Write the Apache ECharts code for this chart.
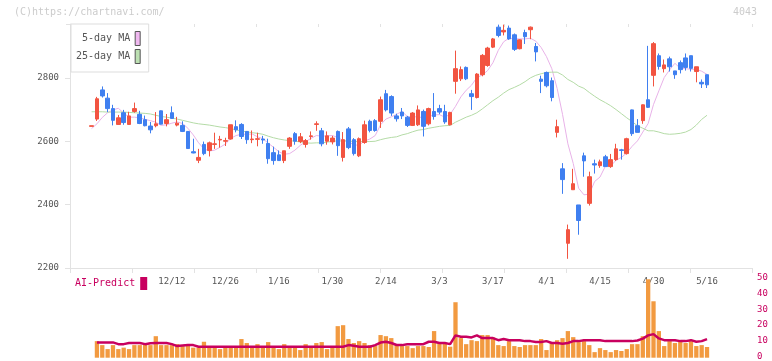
<!DOCTYPE html>
<html>
<head>
<meta charset="utf-8">
<script src="https://cdn.jsdelivr.net/npm/echarts@6/dist/echarts.min.js"></script>
<style>html,body{margin:0;padding:0;background:#fff;}#c{width:772px;height:361px;}</style>
</head>
<body>
<div id="c"></div>
<script>
const dates = ['11/21','11/22','11/25','11/26','11/27','11/28','11/29','12/2','12/3','12/4','12/5','12/6','12/9','12/10','12/11','12/12','12/13','12/16','12/17','12/18','12/19','12/20','12/23','12/24','12/25','12/26','12/27','12/30','1/6','1/7','1/8','1/9','1/10','1/14','1/15','1/16','1/17','1/20','1/21','1/22','1/23','1/24','1/27','1/28','1/29','1/30','1/31','2/3','2/4','2/5','2/6','2/7','2/10','2/12','2/13','2/14','2/17','2/18','2/19','2/20','2/21','2/25','2/26','2/27','2/28','3/3','3/4','3/5','3/6','3/7','3/10','3/11','3/12','3/13','3/14','3/17','3/18','3/19','3/21','3/24','3/25','3/26','3/27','3/28','3/31','4/1','4/2','4/3','4/4','4/7','4/8','4/9','4/10','4/11','4/14','4/15','4/16','4/17','4/18','4/21','4/22','4/23','4/24','4/25','4/28','4/30','5/1','5/2','5/7','5/8','5/9','5/12','5/13','5/14','5/15','5/16'];
const opens  = [2647,2670,2762,2736,2703,2653,2690,2653,2694,2685,2668,2648,2649,2696,2656,2690,2651,2650,2631,2567,2540,2590,2571,2590,2604,2600,2607,2646,2653,2631,2605,2606,2607,2593,2564,2557,2539,2584,2624,2599,2590,2615,2653,2633,2600,2598,2631,2549,2639,2605,2554,2596,2663,2665,2663,2750,2741,2680,2692,2676,2650,2652,2694,2655,2694,2703,2694,2652,2789,2797,2833,2750,2738,2810,2839,2897,2960,2945,2957,2936,2892,2943,2952,2899,2796,2817,2791,2628,2513,2278,2447,2399,2554,2404,2529,2523,2551,2520,2542,2573,2561,2699,2649,2665,2731,2808,2870,2829,2860,2822,2848,2863,2870,2820,2786,2810];
const closes = [2649,2734,2743,2703,2666,2674,2659,2680,2703,2656,2649,2636,2655,2654,2668,2672,2657,2631,2577,2563,2549,2561,2595,2592,2606,2602,2652,2636,2615,2605,2607,2608,2604,2545,2539,2539,2570,2610,2600,2614,2602,2617,2655,2592,2617,2610,2586,2605,2580,2561,2608,2652,2634,2634,2731,2699,2689,2671,2680,2650,2689,2699,2647,2703,2678,2692,2661,2691,2829,2826,2797,2741,2812,2871,2894,2923,2934,2950,2923,2890,2920,2930,2960,2882,2789,2775,2738,2646,2479,2321,2466,2350,2538,2488,2525,2535,2520,2542,2576,2571,2608,2624,2628,2715,2707,2908,2836,2841,2835,2810,2826,2833,2830,2835,2781,2778];
const lows   = [2647,2664,2738,2692,2650,2653,2652,2653,2690,2654,2647,2625,2644,2653,2647,2672,2647,2629,2577,2562,2531,2556,2552,2576,2580,2585,2605,2628,2607,2592,2594,2584,2592,2529,2526,2539,2531,2576,2589,2594,2580,2605,2633,2584,2589,2590,2554,2536,2575,2555,2550,2592,2628,2630,2642,2694,2680,2662,2670,2645,2648,2648,2615,2650,2668,2685,2655,2650,2750,2790,2793,2699,2735,2805,2835,2894,2928,2934,2920,2885,2890,2907,2922,2852,2752,2770,2726,2612,2434,2229,2447,2305,2488,2397,2498,2516,2520,2516,2538,2542,2558,2617,2628,2655,2705,2773,2826,2817,2820,2797,2814,2823,2820,2786,2768,2768];
const highs  = [2649,2740,2773,2752,2715,2683,2699,2693,2722,2696,2681,2661,2692,2697,2686,2710,2677,2663,2631,2608,2576,2599,2599,2627,2617,2611,2652,2666,2657,2631,2634,2627,2617,2608,2583,2571,2570,2613,2629,2626,2607,2631,2663,2642,2631,2617,2634,2629,2645,2610,2612,2665,2668,2670,2741,2762,2745,2687,2705,2680,2692,2713,2700,2706,2752,2715,2715,2693,2886,2836,2836,2762,2815,2875,2898,2926,2968,2968,2965,2940,2922,2952,2962,2910,2807,2820,2801,2668,2531,2337,2513,2399,2564,2504,2542,2542,2557,2560,2592,2576,2611,2700,2670,2716,2901,2913,2877,2858,2867,2822,2855,2877,2870,2835,2795,2810];
const ma5  = [2640,2655,2675,2690,2699,2704,2689,2676,2676,2674,2669,2665,2660,2650,2652,2657,2661,2656,2641,2620,2595,2576,2569,2572,2581,2591,2609,2618,2622,2622,2623,2614,2608,2594,2581,2567,2559,2561,2572,2587,2599,2609,2618,2616,2617,2618,2612,2602,2600,2588,2588,2601,2607,2618,2652,2670,2677,2685,2694,2678,2676,2678,2673,2678,2683,2684,2676,2685,2710,2740,2761,2777,2801,2809,2823,2848,2887,2914,2925,2924,2923,2923,2925,2916,2896,2867,2829,2766,2685,2592,2530,2452,2431,2433,2473,2487,2521,2522,2540,2549,2563,2584,2601,2629,2656,2716,2759,2801,2825,2846,2830,2829,2827,2827,2821,2811];
const ma25 = [2693,2693,2693,2692,2692,2692,2692,2691,2690,2689,2688,2686,2682,2678,2676,2673,2670,2666,2662,2658,2655,2653,2651,2648,2645,2643,2640,2636,2632,2630,2627,2625,2622,2616,2611,2607,2604,2602,2600,2598,2595,2594,2595,2595,2597,2600,2601,2601,2601,2599,2599,2599,2599,2600,2605,2609,2612,2614,2620,2624,2630,2635,2637,2641,2644,2647,2649,2650,2660,2668,2676,2682,2690,2702,2715,2728,2739,2752,2763,2770,2778,2788,2800,2808,2813,2817,2818,2818,2809,2795,2786,2774,2767,2754,2742,2731,2722,2712,2700,2687,2674,2662,2649,2641,2633,2633,2629,2624,2622,2623,2625,2629,2637,2651,2669,2682];
const volumes = [null,10.4,7.9,5.4,7.9,5.4,6.3,5.4,7.9,7.9,8.5,7.9,13.5,7.9,7.9,7.9,8.5,7.3,7.9,6.3,6.3,10.0,6.3,6.3,5.4,7.3,7.3,7.3,11.7,9.2,7.3,8.5,7.3,9.8,7.3,5.4,8.5,7.3,7.3,4.8,8.5,7.3,9.2,9.8,5.4,6.3,19.8,20.4,11.7,9.2,10.4,9.2,7.9,7.3,14.2,13.5,12.3,7.9,7.3,7.3,6.0,7.3,7.3,6.7,16.7,9.2,9.2,6.9,34.8,12.3,8.5,11.0,10.4,14.2,14.2,12.7,7.9,7.3,10.4,7.3,6.7,7.9,7.9,7.9,11.7,4.8,9.2,11.0,12.3,16.7,12.9,9.8,10.4,7.9,3.5,6.0,4.8,3.5,4.8,4.2,5.4,8.5,8.5,13.5,49.2,35.4,16.7,7.3,10.4,9.2,10.4,9.2,10.4,7.3,7.9,6.7];
const aiPredict = [null,9.6,9.6,9.6,9.6,8.5,8.5,9.2,9.2,9.2,8.5,9.0,9.2,9.2,9.2,8.5,7.3,7.6,7.9,7.9,6.9,6.9,6.9,6.9,6.9,6.9,6.9,6.9,6.9,6.9,6.9,6.9,6.9,6.9,6.9,6.9,6.9,6.9,6.9,6.9,6.9,6.9,6.9,6.9,6.9,6.9,6.9,6.9,7.9,7.5,6.9,6.9,6.9,7.9,9.5,10.0,9.2,8.0,7.9,8.5,8.5,8.5,8.5,10.0,10.0,9.2,9.2,8.5,14.0,13.1,13.1,12.7,14.0,12.3,12.3,12.3,11.0,11.7,11.0,11.0,11.0,10.4,10.4,9.8,9.8,10.4,9.2,9.2,8.8,9.2,10.4,10.4,11.0,11.0,11.0,11.0,10.4,10.4,10.4,10.4,10.4,10.4,10.8,12.0,14.0,14.8,12.1,11.0,11.0,11.0,10.4,10.4,11.0,10.0,10.4,11.7];
const priceMin = 2200, priceMax = 2970, priceStep = 200;
const volMin = 0, volMax = 50, volStep = 10;
const frameSections = 11;

const MONO = "'DejaVu Sans Mono', monospace";
const UP = '#f25441', DOWN = '#3f7ff0', AXIS = '#e2e2e2', CRIMSON = '#c8005f';
const candleData = dates.map((d, i) => [opens[i], closes[i], lows[i], highs[i]]);

const chart = echarts.init(document.getElementById('c'), null, {renderer: 'canvas'});
chart.setOption({
  animation: false,
  title: [
    {text: '(C)https://chartnavi.com/', left: 9, top: 2, textStyle: {fontFamily: MONO, fontSize: 10, fontWeight: 'normal', color: '#cccccc'}},
    {text: '4043', right: 10, top: 2, textStyle: {fontFamily: MONO, fontSize: 10, fontWeight: 'normal', color: '#cccccc'}}
  ],
  legend: [
    {
      data: [
        {name: '5-day MA', itemStyle: {color: '#f0b8f0', borderColor: '#555', borderWidth: 1}},
        {name: '25-day MA', itemStyle: {color: '#bce0b2', borderColor: '#555', borderWidth: 1}}
      ],
      orient: 'vertical', align: 'right', left: 71, top: 24, icon: 'rect',
      itemWidth: 5, itemHeight: 14, itemGap: 3, padding: [7, 8, 8, 5],
      backgroundColor: '#fff', borderColor: '#dddddd', borderWidth: 1, borderRadius: 0,
      selectedMode: false,
      textStyle: {fontFamily: MONO, fontSize: 10, color: '#555'}
    },
    {
      data: [{name: 'AI-Predict', itemStyle: {color: CRIMSON}}],
      align: 'right', left: 75, top: 277, icon: 'rect', itemWidth: 7, itemHeight: 13, padding: 0,
      selectedMode: false,
      textStyle: {fontFamily: MONO, fontSize: 10, color: CRIMSON}
    }
  ],
  grid: [
    {left: 70, right: 20, top: 24, bottom: 93},
    {left: 88.9, right: 62.3, top: 24, bottom: 93},
    {left: 88.9, right: 62.3, top: 278, bottom: 3.3},
    {left: 70, right: 20, top: 278, bottom: 3.3}
  ],
  xAxis: [
    {gridIndex: 0, type: 'value', min: 0, max: frameSections, interval: 1,
     axisLine: {onZero: false, lineStyle: {color: AXIS}}, axisTick: {length: 5, lineStyle: {color: AXIS}},
     axisLabel: {show: false}, splitLine: {show: false}},
    {gridIndex: 0, type: 'value', min: 0, max: frameSections, interval: 1,
     axisLine: {show: false}, axisTick: {inside: true, length: 3, lineStyle: {color: AXIS}},
     axisLabel: {show: false}, splitLine: {show: false}},
    {gridIndex: 1, type: 'category', data: dates, axisLine: {show: false}, axisTick: {show: false},
     axisLabel: {interval: (i) => i >= 15 && (i - 15) % 10 === 0, margin: 9, fontFamily: MONO, fontSize: 9, color: '#555'},
     splitLine: {show: false}},
    {gridIndex: 2, type: 'category', data: dates, show: false},
    {gridIndex: 3, type: 'value', min: 0, max: 1, show: false}
  ],
  yAxis: [
    {gridIndex: 0, type: 'value', min: priceMin, max: priceMax, interval: priceStep,
     axisLine: {show: true, onZero: false, lineStyle: {color: AXIS}}, axisTick: {show: true, length: 5, lineStyle: {color: AXIS}},
     axisLabel: {showMaxLabel: false, margin: 11, fontFamily: MONO, fontSize: 9, color: '#555', formatter: (v) => String(v)},
     splitLine: {show: false}},
    {gridIndex: 0, type: 'value', min: priceMin, max: priceMax, interval: priceStep,
     axisLine: {show: false}, axisTick: {show: true, inside: true, length: 4, lineStyle: {color: AXIS}},
     axisLabel: {show: false}, splitLine: {show: false}},
    {gridIndex: 1, type: 'value', min: priceMin, max: priceMax, show: false},
    {gridIndex: 2, type: 'value', min: volMin, max: volMax, show: false},
    {gridIndex: 3, type: 'value', min: volMin, max: volMax, interval: volStep, position: 'right',
     axisLine: {show: false}, axisTick: {show: false},
     axisLabel: {margin: 5, fontFamily: MONO, fontSize: 9, color: CRIMSON, formatter: (v) => String(v)}, splitLine: {show: false}}
  ],
  series: [
    {name: '5-day MA', type: 'line', xAxisIndex: 2, yAxisIndex: 2, data: ma5, showSymbol: false, smooth: false,
     lineStyle: {color: '#e8b2e8', width: 1}, itemStyle: {color: '#e8b2e8'}, z: 1},
    {name: '25-day MA', type: 'line', xAxisIndex: 2, yAxisIndex: 2, data: ma25, showSymbol: false,
     lineStyle: {color: '#b4dba6', width: 1}, itemStyle: {color: '#b4dba6'}, z: 1},
    {name: 'price', type: 'candlestick', xAxisIndex: 2, yAxisIndex: 2, data: candleData, barWidth: 4,
     itemStyle: {color: UP, color0: DOWN, borderColor: UP, borderColor0: DOWN, borderWidth: 1}, z: 3},
    {name: 'volume', type: 'bar', xAxisIndex: 3, yAxisIndex: 3, data: volumes, barWidth: 4.3,
     itemStyle: {color: '#f29a40'}, z: 1},
    {name: 'AI-Predict', type: 'line', xAxisIndex: 3, yAxisIndex: 3, data: aiPredict, showSymbol: false,
     lineStyle: {color: CRIMSON, width: 2.5}, itemStyle: {color: CRIMSON}, z: 3}
  ]
});
</script>
</body>
</html>
